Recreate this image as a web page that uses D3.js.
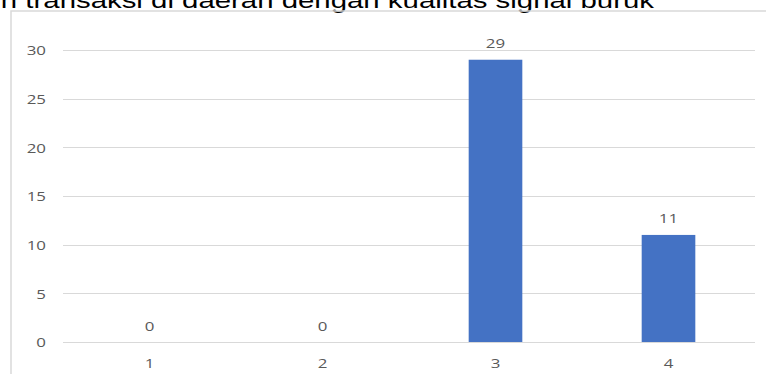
<!DOCTYPE html>
<html>
<head>
<meta charset="utf-8">
<script src="https://cdn.jsdelivr.net/npm/d3@7"></script>
<style>
  html, body { margin: 0; padding: 0; background: #fff; overflow: hidden; }
  svg { display: block; }
</style>
</head>
<body>
<svg id="chart" width="766" height="374"></svg>
<script>
// Responses per answer option (scale 1–4)
const categories = ["1", "2", "3", "4"];
const counts = [0, 0, 29, 11];
const yTicks = [0, 5, 10, 15, 20, 25, 30];
const title = "n transaksi di daerah dengan kualitas signal buruk";

const svg = d3.select("#chart");
const W = 766, H = 374;
const plot = { left: 63, right: 755, top: 50, bottom: 342 };

const labelFont = "'Open Sans', sans-serif";
const labelColor = "#595959";
const stretch = 1.25;

// Title, drawn partly above the visible area
svg.append("text")
  .attr("transform", `translate(654,7.5) scale(1.3,1)`)
  .attr("text-anchor", "end")
  .attr("font-family", "'Liberation Sans', Arial, sans-serif")
  .attr("font-size", 22.6)
  .attr("fill", "#000")
  .text(title);

// Chart frame (top and left edges visible)
svg.append("path")
  .attr("d", `M11,${H + 2} L11,11 L${W + 2},11`)
  .attr("fill", "none")
  .attr("stroke", "#d9d9d9")
  .attr("stroke-width", 1.5);

const x = d3.scaleBand()
  .domain(categories)
  .range([plot.left, plot.right])
  .paddingInner(0.69)
  .paddingOuter(0.345);

const y = d3.scaleLinear()
  .domain([0, 30])
  .range([plot.bottom, plot.top]);

// Horizontal gridlines
svg.append("g")
  .selectAll("line")
  .data(yTicks)
  .join("line")
  .attr("x1", plot.left)
  .attr("x2", plot.right)
  .attr("y1", d => Math.round(y(d)) + 0.5)
  .attr("y2", d => Math.round(y(d)) + 0.5)
  .attr("stroke", "#d9d9d9")
  .attr("stroke-width", 1);

// Y axis labels
const yAxis = d3.axisLeft(y).tickValues(yTicks).tickSize(0).tickPadding(0);
const yg = svg.append("g")
  .attr("transform", `translate(46,0)`)
  .call(yAxis);
yg.select(".domain").remove();
yg.selectAll("text")
  .attr("font-family", labelFont)
  .attr("font-size", 13.5)
  .attr("fill", labelColor)
  .attr("transform", `scale(${stretch},1)`)
  .attr("x", 0)
  .attr("dy", "0.35em");

// Bars
svg.append("g")
  .selectAll("rect")
  .data(counts)
  .join("rect")
  .attr("x", (d, i) => x(categories[i]))
  .attr("width", x.bandwidth())
  .attr("y", d => y(d))
  .attr("height", d => y(0) - y(d))
  .attr("fill", "#4472c4");

// Value labels above bars
svg.append("g")
  .selectAll("text")
  .data(counts)
  .join("text")
  .attr("transform", (d, i) =>
    `translate(${x(categories[i]) + x.bandwidth() / 2},${y(d) - 11.5}) scale(${stretch},1)`)
  .attr("text-anchor", "middle")
  .attr("font-family", labelFont)
  .attr("font-size", 13.5)
  .attr("fill", labelColor)
  .text(d => d);

// X axis category labels
const xAxis = d3.axisBottom(x).tickSize(0).tickPadding(0);
const xg = svg.append("g")
  .attr("transform", `translate(0,${plot.bottom})`)
  .call(xAxis);
xg.select(".domain").remove();
xg.selectAll("text")
  .attr("font-family", labelFont)
  .attr("font-size", 13.5)
  .attr("fill", labelColor)
  .attr("y", 0)
  .attr("dy", 0)
  .attr("transform", `translate(0,26) scale(${stretch},1)`);
</script>
</body>
</html>
